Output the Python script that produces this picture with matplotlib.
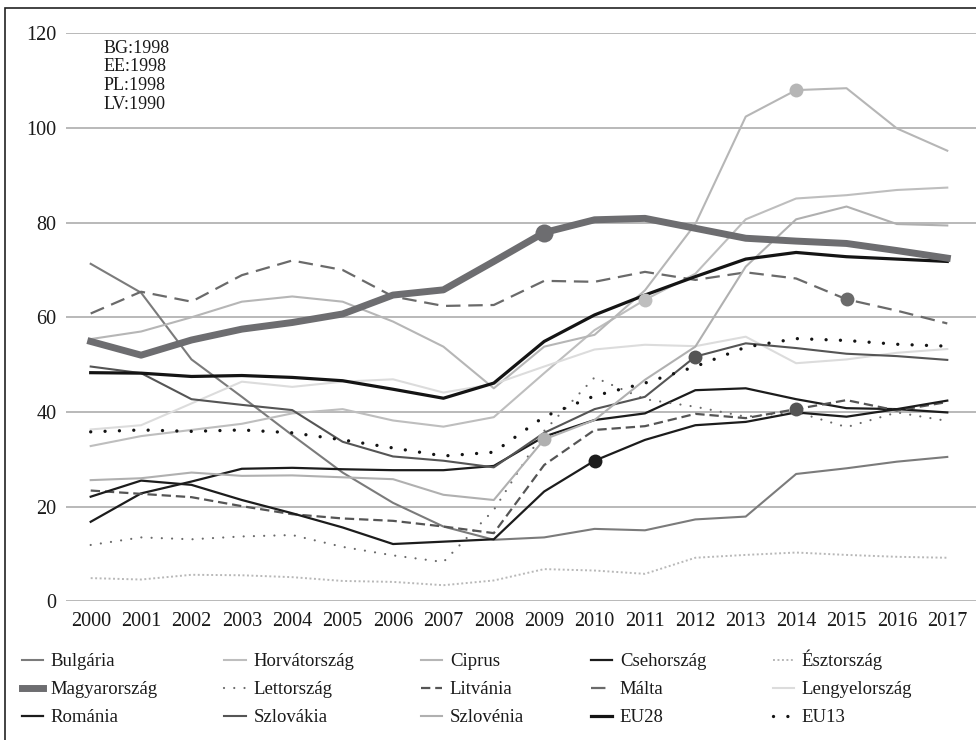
import numpy as np
import matplotlib
matplotlib.use('Agg')
import matplotlib.pyplot as plt
from matplotlib.patches import Rectangle

plt.rcParams['font.family'] = ['Liberation Serif', 'DejaVu Serif']

# years on the x axis
years = list(range(2000, 2018))

# public debt values (% of GDP)
bulgaria = [71.3, 65.2, 51.1, 43.2, 35.1, 27.2, 20.8, 15.8, 13.0, 13.5, 15.3, 15.0, 17.3, 17.9, 26.9, 28.1, 29.5, 30.5]
horvat = [32.8, 34.9, 36.2, 37.5, 39.7, 40.6, 38.2, 36.9, 38.9, 48.2, 57.3, 63.7, 69.2, 80.7, 85.1, 85.8, 86.9, 87.4]
ciprus = [55.4, 57.0, 60.0, 63.3, 64.4, 63.3, 59.1, 53.8, 45.0, 53.8, 56.3, 65.7, 79.7, 102.4, 108.0, 108.4, 99.9, 95.2]
cseh = [16.8, 22.8, 25.3, 28.0, 28.2, 27.9, 27.7, 27.7, 28.6, 34.8, 38.3, 39.7, 44.6, 45.0, 42.7, 40.8, 40.6, 39.9]
eszt = [4.9, 4.6, 5.6, 5.5, 5.1, 4.3, 4.1, 3.4, 4.4, 6.8, 6.5, 5.8, 9.2, 9.8, 10.3, 9.8, 9.4, 9.2]
magyar = [54.9, 52.0, 55.2, 57.5, 58.9, 60.7, 64.7, 65.8, 71.8, 77.9, 80.6, 80.9, 78.8, 76.7, 76.1, 75.6, 74.1, 72.5]
lett = [11.9, 13.5, 13.1, 13.7, 14.0, 11.5, 9.7, 8.3, 19.3, 36.0, 47.3, 42.7, 41.1, 39.0, 40.0, 36.8, 39.9, 38.1]
litvan = [23.4, 22.7, 22.0, 20.1, 18.4, 17.5, 17.0, 15.8, 14.4, 28.8, 36.2, 37.0, 39.6, 38.7, 40.6, 42.5, 40.3, 42.1]
malta = [60.8, 65.4, 63.3, 68.9, 72.0, 70.0, 64.4, 62.4, 62.6, 67.7, 67.5, 69.6, 67.9, 69.5, 68.2, 63.8, 61.4, 58.7]
lengyel = [36.3, 37.2, 41.8, 46.4, 45.3, 46.4, 46.9, 44.1, 45.9, 49.6, 53.2, 54.2, 53.9, 55.9, 50.3, 51.1, 52.5, 53.3]
roman = [22.1, 25.5, 24.6, 21.4, 18.6, 15.6, 12.1, 12.6, 13.1, 23.2, 29.7, 34.1, 37.2, 37.9, 39.9, 39.0, 40.6, 42.4]
szlovak = [49.6, 48.2, 42.7, 41.5, 40.4, 33.7, 30.6, 29.7, 28.3, 35.6, 40.6, 43.2, 51.7, 54.5, 53.5, 52.3, 51.8, 51.0]
szloven = [25.6, 26.0, 27.2, 26.5, 26.6, 26.2, 25.8, 22.5, 21.4, 34.2, 38.3, 46.8, 53.8, 70.7, 80.7, 83.4, 79.7, 79.4]
eu28 = [48.3, 48.2, 47.5, 47.7, 47.3, 46.6, 44.8, 42.9, 46.1, 54.9, 60.5, 64.7, 68.6, 72.3, 73.7, 72.8, 72.3, 71.8]
eu13 = [35.8, 36.2, 35.9, 36.2, 35.6, 34.1, 32.4, 30.7, 31.5, 39.0, 43.4, 46.1, 49.6, 53.7, 55.5, 55.1, 54.3, 53.9]

# year that gets a marker on each marked series
marker_years = {'Magyarország': 2009, 'Szlovénia': 2009, 'Románia': 2010,
                'Horvátország': 2011, 'Szlovákia': 2012, 'Ciprus': 2014,
                'Litvánia': 2014, 'Málta': 2015}

series = [
    # name, values, color, lw, linestyle, capstyle
    ('Bulgária', bulgaria, '#7b7b7b', 1.5, '-', 'butt'),
    ('Horvátország', horvat, '#bebebe', 1.5, '-', 'butt'),
    ('Ciprus', ciprus, '#b6b6b6', 1.5, '-', 'butt'),
    ('Csehország', cseh, '#1c1c1c', 1.6, '-', 'butt'),
    ('Észtország', eszt, '#b8b8b8', 1.4, (0, (1, 1.3)), 'butt'),
    ('Magyarország', magyar, '#6d6d70', 5.0, '-', 'butt'),
    ('Lettország', lett, '#6a6a6a', 1.6, (0, (0.01, 4.6)), 'round'),
    ('Litvánia', litvan, '#555555', 1.6, (0, (4.2, 2.2)), 'butt'),
    ('Málta', malta, '#6a6a6a', 1.6, (0, (6.5, 3.5)), 'butt'),
    ('Lengyelország', lengyel, '#dcdcdc', 1.5, '-', 'butt'),
    ('Románia', roman, '#1c1c1c', 1.6, '-', 'butt'),
    ('Szlovákia', szlovak, '#555555', 1.5, '-', 'butt'),
    ('Szlovénia', szloven, '#b0b0b0', 1.5, '-', 'butt'),
    ('EU28', eu28, '#141414', 2.3, '-', 'butt'),
    ('EU13', eu13, '#141414', 2.4, (0, (0.01, 4.3)), 'round'),
]

fig = plt.figure(figsize=(9.76, 7.4), dpi=100)
ax = fig.add_axes([66 / 976, 1 - 601.3 / 740, 910 / 976, 568 / 740])

handles = {}
for name, vals, color, lw, ls, cap in series:
    ln, = ax.plot(years, vals, color=color, lw=lw, linestyle=ls,
                  dash_capstyle=cap, solid_joinstyle='round', label=name,
                  zorder=3 if name != 'Magyarország' else 4)
    handles[name] = ln
    if name in marker_years:
        yr = marker_years[name]
        ms = 13 if name == 'Magyarország' else 10
        ax.plot(yr, vals[years.index(yr)], 'o', color=color, ms=ms,
                mec='none', zorder=5)

ax.set_xlim(1999.51, 2017.57)
ax.set_ylim(0, 120)
ax.set_yticks(range(0, 121, 20))
ax.set_xticks(years)
ax.grid(axis='y', color='#a6a6a6', lw=1.1)
ax.set_axisbelow(True)
for s in ax.spines.values():
    s.set_visible(False)
ax.tick_params(length=0, labelsize=14.5, colors='#1a1a1a')
ax.tick_params(axis='y', pad=7)
ax.tick_params(axis='x', pad=8)

ax.text(2000.25, 118.6, 'BG:1998\nEE:1998\nPL:1998\nLV:1990', fontsize=13,
        va='top', ha='left', linespacing=1.12, color='#1a1a1a')

# legend, filled column by column so that it reads row by row
order = ['Bulgária', 'Magyarország', 'Románia',
         'Horvátország', 'Lettország', 'Szlovákia',
         'Ciprus', 'Litvánia', 'Szlovénia',
         'Csehország', 'Málta', 'EU28',
         'Észtország', 'Lengyelország', 'EU13']
fig.legend([handles[n] for n in order], order, ncols=5, frameon=False,
           loc='upper left', bbox_to_anchor=(16 / 976, 1 - 644 / 740),
           fontsize=13.5, handlelength=1.15, handletextpad=0.4,
           columnspacing=3.55, labelspacing=0.58, labelcolor='#1a1a1a',
           borderaxespad=0, borderpad=0.3)

# frame around the whole figure (cut at right and bottom like the source)
fig.patches.append(Rectangle((5 / 976, -0.1), 1.2, 1 - 8 / 740 + 0.1,
                             transform=fig.transFigure, fill=False,
                             ec='#222222', lw=1.2))

fig.savefig('out.png', dpi=100)
